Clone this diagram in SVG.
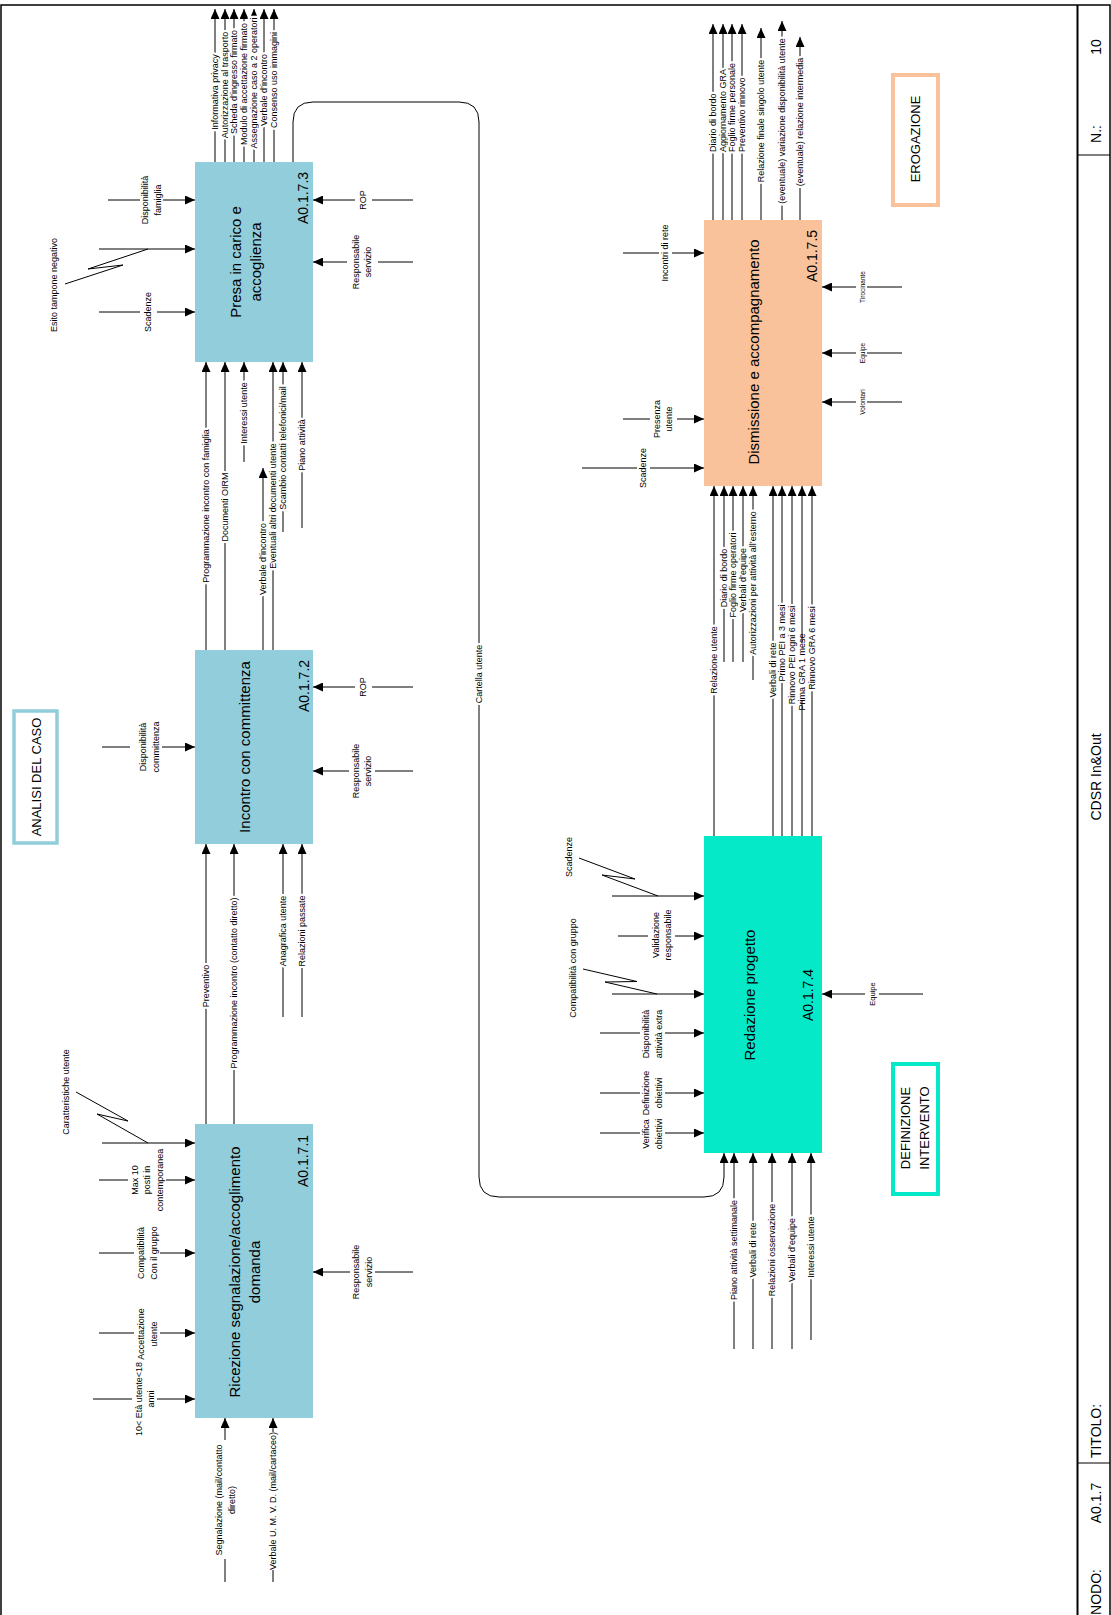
<svg xmlns="http://www.w3.org/2000/svg" width="1111" height="1615" viewBox="0 0 1111 1615">
<defs>
<marker id="ah" viewBox="0 0 10 9" refX="10" refY="4.5" markerWidth="10" markerHeight="9" markerUnits="userSpaceOnUse" orient="auto"><path d="M0,0 L10,4.5 L0,9 Z" fill="#000"/></marker>
<style>
.t{font-family:"Liberation Sans",Arial,sans-serif;font-size:9px;text-anchor:middle;dominant-baseline:central;fill:#000}
.h{paint-order:stroke;stroke:#fff;stroke-width:4.5px;stroke-linejoin:round}
.st{text-anchor:start}
.n{font-size:15px}
.i{font-size:14px}
.g{font-size:13px}
.sm{font-size:6.5px}
.s7{font-size:7.5px}
.c{stroke:#000;stroke-width:1;fill:none}
.a{marker-end:url(#ah)}
.z{stroke:#000;stroke-width:1;fill:none;stroke-linejoin:round}
.m{fill:#fff}
.blue{fill:#92CDDC}
.turq{fill:#05E9C9}
.peach{fill:#FAC29A}
</style>
</defs>
<rect width="1111" height="1615" fill="#fff"/>

<g id="frame">
<rect x="1" y="5" width="1109" height="1625" fill="none" stroke="#000" stroke-width="1.5"/>
<line x1="1077.5" y1="5" x2="1077.5" y2="1615" stroke="#000" stroke-width="2"/>
<line x1="1077" y1="155" x2="1110" y2="155" stroke="#000" stroke-width="1"/>
<line x1="1077" y1="1463" x2="1110" y2="1463" stroke="#000" stroke-width="1"/>
<text class="t i" transform="translate(1096 47) rotate(-90)">10</text>
<text class="t i" transform="translate(1096 134) rotate(-90)">N.:</text>
<text class="t i" transform="translate(1096 777) rotate(-90)">CDSR In&amp;Out</text>
<text class="t i" transform="translate(1096 1431) rotate(-90)">TITOLO:</text>
<text class="t i" transform="translate(1096 1503) rotate(-90)">A0.1.7</text>
<text class="t i" transform="translate(1096 1592) rotate(-90)">NODO:</text>
</g>

<g id="group-analisi">
<rect x="14" y="711" width="43" height="132" fill="#fff" stroke="#92CDDC" stroke-width="3.5"/>
<text class="t g" transform="translate(36 777) rotate(-90)">ANALISI DEL CASO</text>
</g>
<g id="group-erogazione">
<rect x="893" y="75" width="45" height="130" fill="#fff" stroke="#FAC29A" stroke-width="4"/>
<text class="t g" transform="translate(915 139) rotate(-90)">EROGAZIONE</text>
</g>
<g id="group-definizione">
<rect x="893" y="1064" width="45" height="130" fill="#fff" stroke="#05E9C9" stroke-width="4"/>
<text class="t g" transform="translate(914.5 1128) rotate(-90)"><tspan x="0" y="-9.5">DEFINIZIONE</tspan><tspan x="0" y="9.5">INTERVENTO</tspan></text>
</g>

<g id="A0.1.7.1">
<rect class="blue" x="195" y="1124" width="118" height="294"/>
<text class="t n" transform="translate(244 1272) rotate(-90)"><tspan x="0" y="-10">Ricezione segnalazione/accoglimento</tspan><tspan x="0" y="10">domanda</tspan></text>
<text class="t i" transform="translate(303 1161) rotate(-90)">A0.1.7.1</text>
</g>
<g id="A0.1.7.2">
<rect class="blue" x="195" y="650" width="118" height="194"/>
<text class="t n" transform="translate(244 747) rotate(-90)">Incontro con committenza</text>
<text class="t i" transform="translate(304 686) rotate(-90)">A0.1.7.2</text>
</g>
<g id="A0.1.7.3">
<rect class="blue" x="195" y="162" width="118" height="200"/>
<text class="t n" transform="translate(245 262) rotate(-90)"><tspan x="0" y="-10">Presa in carico e</tspan><tspan x="0" y="10">accoglienza</tspan></text>
<text class="t i" transform="translate(303 198) rotate(-90)">A0.1.7.3</text>
</g>
<g id="A0.1.7.4">
<rect class="turq" x="704" y="836" width="118" height="317"/>
<text class="t n" transform="translate(749 995) rotate(-90)">Redazione progetto</text>
<text class="t i" transform="translate(808 995) rotate(-90)">A0.1.7.4</text>
</g>
<g id="A0.1.7.5">
<rect class="peach" x="704" y="220" width="118" height="266"/>
<text class="t n" transform="translate(753 352) rotate(-90)">Dismissione e accompagnamento</text>
<text class="t i" transform="translate(812 256) rotate(-90)">A0.1.7.5</text>
</g>

<g id="connectors">
<!-- A0.1.7.3 outputs -->
<path class="c a" d="M215,162V9"/><text class="t h" transform="translate(215 92) rotate(-90)">Informativa privacy</text>
<path class="c a" d="M225,162V9"/><text class="t h" transform="translate(225 85) rotate(-90)">Autorizzazione al trasporto</text>
<path class="c a" d="M234,162V9"/><text class="t h" transform="translate(234 82) rotate(-90)">Scheda d’ingresso firmato</text>
<path class="c a" d="M244,162V9"/><text class="t h" transform="translate(244 84) rotate(-90)">Modulo di accettazione firmato</text>
<path class="c a" d="M254,162V9"/><text class="t h" transform="translate(254 83) rotate(-90)">Assegnazione caso a 2 operatori</text>
<path class="c a" d="M264,162V9"/><text class="t h" transform="translate(264 90) rotate(-90)">Verbale d’incontro</text>
<path class="c a" d="M274,162V9"/><text class="t h" transform="translate(274 80) rotate(-90)">Consenso uso immagini</text>
<!-- Cartella utente -->
<path class="c a" d="M293,162V122Q293,102 313,102H459Q479,102 479,122V1177Q479,1197 499,1197H704Q724,1197 724,1177V1153"/>
<text class="t h" transform="translate(479 674) rotate(-90)">Cartella utente</text>

<!-- A0.1.7.3 inputs -->
<path class="c a" d="M108,200H195"/><rect class="m" x="140" y="198.5" width="23" height="3"/>
<text class="t" transform="translate(151.5 200) rotate(-90)"><tspan x="0" y="-6.5">Disponibilità</tspan><tspan x="0" y="6.5">famiglia</tspan></text>
<path class="c a" d="M99,249H195"/><polyline class="z" points="148,249 88,269 123,265 65,284"/>
<text class="t" transform="translate(54 285) rotate(-90)">Esito tampone negativo</text>
<path class="c a" d="M99,312H195"/><rect class="m" x="140" y="310.5" width="17" height="3"/>
<text class="t" transform="translate(148 312) rotate(-90)">Scadenze</text>
<path class="c a" d="M413,200H313"/><rect class="m" x="355" y="198.5" width="17" height="3"/>
<text class="t" transform="translate(363 200) rotate(-90)">ROP</text>
<path class="c a" d="M413,262H313"/><rect class="m" x="347" y="260.5" width="31" height="3"/>
<text class="t" transform="translate(362 262) rotate(-90)"><tspan x="0" y="-6">Responsabile</tspan><tspan x="0" y="6">servizio</tspan></text>
<!-- A0.1.7.3 bottom -->
<path class="c a" d="M206,650V362"/><text class="t h" transform="translate(206 506) rotate(-90)">Programmazione incontro con famiglia</text>
<path class="c a" d="M225,650V362"/><text class="t h" transform="translate(225 507) rotate(-90)">Documenti OIRM</text>
<path class="c a" d="M244,462V362"/><text class="t h" transform="translate(244 413) rotate(-90)">Interessi utente</text>
<path class="c a" d="M263,650V468"/><text class="t h" transform="translate(263 559) rotate(-90)">Verbale d’incontro</text>
<path class="c a" d="M273,650V362"/><text class="t h" transform="translate(273 506) rotate(-90)">Eventuali altri documenti utente</text>
<path class="c a" d="M283,532V362"/><text class="t h" transform="translate(283 448) rotate(-90)">Scambio contatti telefonici/mail</text>
<path class="c a" d="M302,528V362"/><text class="t h" transform="translate(302 445) rotate(-90)">Piano attività</text>

<!-- A0.1.7.2 -->
<path class="c a" d="M102,747H195"/><rect class="m" x="130" y="745.5" width="32" height="3"/>
<text class="t" transform="translate(149.5 747) rotate(-90)"><tspan x="0" y="-6.5">Disponibilità</tspan><tspan x="0" y="6.5">committenza</tspan></text>
<path class="c a" d="M413,687H313"/><rect class="m" x="355" y="685.5" width="17" height="3"/>
<text class="t" transform="translate(363 687) rotate(-90)">ROP</text>
<path class="c a" d="M413,771H313"/><rect class="m" x="349" y="769.5" width="26" height="3"/>
<text class="t" transform="translate(362 771) rotate(-90)"><tspan x="0" y="-6">Responsabile</tspan><tspan x="0" y="6">servizio</tspan></text>
<path class="c a" d="M206,1124V844"/><text class="t h" transform="translate(206 986) rotate(-90)">Preventivo</text>
<path class="c a" d="M234,1124V844"/><text class="t h" transform="translate(234 983) rotate(-90)">Programmazione incontro (contatto diretto)</text>
<path class="c a" d="M283,1017V844"/><text class="t h" transform="translate(283 931) rotate(-90)">Anagrafica utente</text>
<path class="c a" d="M302,1017V844"/><text class="t h" transform="translate(302 931) rotate(-90)">Relazioni passate</text>

<!-- A0.1.7.1 -->
<path class="c a" d="M102,1143H195"/><polyline class="z" points="148,1143 97,1114 128,1121 76,1092"/>
<text class="t" transform="translate(66 1092) rotate(-90)">Caratteristiche utente</text>
<path class="c a" d="M99,1180H195"/><rect class="m" x="128" y="1178.5" width="38" height="3"/>
<text class="t" transform="translate(147 1180) rotate(-90)"><tspan x="0" y="-12.5">Max 10</tspan><tspan x="0" y="0">posti in</tspan><tspan x="0" y="12.5">contemporanea</tspan></text>
<path class="c a" d="M99,1253H195"/><rect class="m" x="134" y="1251.5" width="26" height="3"/>
<text class="t" transform="translate(147.5 1253) rotate(-90)"><tspan x="0" y="-6.5">Compatibilità</tspan><tspan x="0" y="6.5">Con il gruppo</tspan></text>
<path class="c a" d="M99,1333H195"/><rect class="m" x="134" y="1331.5" width="26" height="3"/>
<text class="t" transform="translate(147.5 1334) rotate(-90)"><tspan x="0" y="-6.5">Accettazione</tspan><tspan x="0" y="6.5">utente</tspan></text>
<path class="c a" d="M93,1399H195"/><rect class="m" x="132" y="1397.5" width="25" height="3"/>
<text class="t" transform="translate(145 1399) rotate(-90)"><tspan x="0" y="-6">10&lt; Età utente&lt;18</tspan><tspan x="0" y="6">anni</tspan></text>
<path class="c a" d="M413,1272H313"/><rect class="m" x="350" y="1270.5" width="25" height="3"/>
<text class="t" transform="translate(362.5 1272) rotate(-90)"><tspan x="0" y="-6.5">Responsabile</tspan><tspan x="0" y="6.5">servizio</tspan></text>
<path class="c a" d="M225,1582V1418"/><rect class="m" x="223.5" y="1440" width="3" height="119"/>
<text class="t" transform="translate(225.5 1500) rotate(-90)"><tspan x="0" y="-6.5">Segnalazione (mail/contatto</tspan><tspan x="0" y="6.5">diretto)</tspan></text>
<path class="c a" d="M273,1582V1418"/><rect class="m" x="271.5" y="1432" width="3" height="138"/>
<text class="t" transform="translate(273 1501) rotate(-90)">Verbale U. M. V. D. (mail/cartaceo)</text>

<!-- A0.1.7.4 -->
<path class="c a" d="M612,896H704"/><polyline class="z" points="658,896 602,875 635,879 579,858"/>
<text class="t" transform="translate(569 857) rotate(-90)">Scadenze</text>
<path class="c a" d="M618,936H704"/><rect class="m" x="648" y="934.5" width="27" height="3"/>
<text class="t" transform="translate(662 935) rotate(-90)"><tspan x="0" y="-6">Validazione</tspan><tspan x="0" y="6">responsabile</tspan></text>
<path class="c a" d="M612,994H704"/><polyline class="z" points="657,994 605,982 637,981.5 583,969"/>
<text class="t" transform="translate(573 968) rotate(-90)">Compatibilità con gruppo</text>
<path class="c a" d="M600,1033H704"/><rect class="m" x="640" y="1031.5" width="25" height="3"/>
<text class="t" transform="translate(652.5 1034) rotate(-90)"><tspan x="0" y="-6.5">Disponibilità</tspan><tspan x="0" y="6.5">attività extra</tspan></text>
<path class="c a" d="M600,1093H704"/><rect class="m" x="640" y="1091.5" width="25" height="3"/>
<text class="t" transform="translate(652.5 1093) rotate(-90)"><tspan x="0" y="-6.5">Definizione</tspan><tspan x="0" y="6.5">obiettivi</tspan></text>
<path class="c a" d="M600,1133H704"/><rect class="m" x="640" y="1131.5" width="25" height="3"/>
<text class="t" transform="translate(652.5 1134) rotate(-90)"><tspan x="0" y="-6.5">Verifica</tspan><tspan x="0" y="6.5">obiettivi</tspan></text>
<path class="c a" d="M923,994H822"/><rect class="m" x="865" y="992.5" width="14" height="3"/>
<text class="t s7" transform="translate(872 994) rotate(-90)">Equipe</text>
<path class="c a" d="M734,1349V1153"/><text class="t h" transform="translate(734 1250) rotate(-90)">Piano attività settimanale</text>
<path class="c a" d="M753,1349V1153"/><text class="t h" transform="translate(753 1250) rotate(-90)">Verbali di rete</text>
<path class="c a" d="M772,1349V1153"/><text class="t h" transform="translate(772 1250) rotate(-90)">Relazioni osservazione</text>
<path class="c a" d="M792,1349V1153"/><text class="t h" transform="translate(792 1250) rotate(-90)">Verbali d’equipe</text>
<path class="c a" d="M811,1340V1153"/><text class="t h" transform="translate(811 1247) rotate(-90)">Interessi utente</text>

<!-- A0.1.7.4 -> A0.1.7.5 and inputs under A0.1.7.5 -->
<path class="c a" d="M714,836V486"/><text class="t h" transform="translate(714 660) rotate(-90)">Relazione utente</text>
<path class="c a" d="M724,662V486"/><text class="t h" transform="translate(724 578) rotate(-90)">Diario di bordo</text>
<path class="c a" d="M733,662V486"/><text class="t h" transform="translate(733 575) rotate(-90)">Foglio firme operatori</text>
<path class="c a" d="M743,662V486"/><text class="t h" transform="translate(743 580) rotate(-90)">Verbali d’equipe</text>
<path class="c a" d="M753,680V486"/><text class="t h" transform="translate(753 583) rotate(-90)">Autorizzazioni per attività all’esterno</text>
<path class="c a" d="M773,836V486"/><text class="t h" transform="translate(773 670) rotate(-90)">Verbali di rete</text>
<path class="c a" d="M782,836V486"/><text class="t h" transform="translate(782 643) rotate(-90)">Primo PEI a 3 mesi</text>
<path class="c a" d="M792,836V486"/><text class="t h" transform="translate(792 655) rotate(-90)">Rinnovo PEI ogni 6 mesi</text>
<path class="c a" d="M802,836V486"/><rect class="m" x="800.5" y="643" width="3" height="58"/><text class="t" transform="translate(802 672) rotate(-90)">Prima GRA 1 mese</text>
<path class="c a" d="M812,836V486"/><text class="t h" transform="translate(812 648) rotate(-90)">Rinnovo GRA 6 mesi</text>

<!-- A0.1.7.5 inputs/controls -->
<path class="c a" d="M623,253H704"/><rect class="m" x="659" y="251.5" width="13" height="3"/>
<text class="t" transform="translate(665 253) rotate(-90)">Incontri di rete</text>
<path class="c a" d="M623,419H704"/><rect class="m" x="650" y="417.5" width="27" height="3"/>
<text class="t" transform="translate(663 419) rotate(-90)"><tspan x="0" y="-6">Presenza</tspan><tspan x="0" y="6">utente</tspan></text>
<path class="c a" d="M582,468H704"/><rect class="m" x="637" y="466.5" width="13" height="3"/>
<text class="t" transform="translate(643 468) rotate(-90)">Scadenze</text>
<path class="c a" d="M902,287H822"/><rect class="m" x="856" y="285.5" width="11" height="3"/>
<text class="t sm" transform="translate(862 287) rotate(-90)">Tirocinante</text>
<path class="c a" d="M902,353H822"/><rect class="m" x="856" y="351.5" width="11" height="3"/>
<text class="t sm" transform="translate(862 353) rotate(-90)">Equipe</text>
<path class="c a" d="M902,402H822"/><rect class="m" x="856" y="400.5" width="11" height="3"/>
<text class="t sm" transform="translate(862 402) rotate(-90)">Volontari</text>

<!-- A0.1.7.5 outputs -->
<path class="c a" d="M713,220V24"/><text class="t h st" transform="translate(713 152) rotate(-90)">Diario di bordo</text>
<path class="c a" d="M723,220V24"/><text class="t h st" transform="translate(723 152) rotate(-90)">Aggiornamento GRA</text>
<path class="c a" d="M732,220V24"/><text class="t h st" transform="translate(732 152) rotate(-90)">Foglio firme personale</text>
<path class="c a" d="M742,220V24"/><text class="t h st" transform="translate(742 152) rotate(-90)">Preventivo rinnovo</text>
<path class="c a" d="M761,220V28"/><text class="t h" transform="translate(761 121) rotate(-90)">Relazione finale singolo utente</text>
<path class="c a" d="M782,220V21"/><text class="t h" transform="translate(782 121) rotate(-90)">(eventuale) variazione disponibilità utente</text>
<path class="c a" d="M800,220V37"/><text class="t h" transform="translate(800 122) rotate(-90)">(eventuale) relazione intermedia</text>
</g>
</svg>
